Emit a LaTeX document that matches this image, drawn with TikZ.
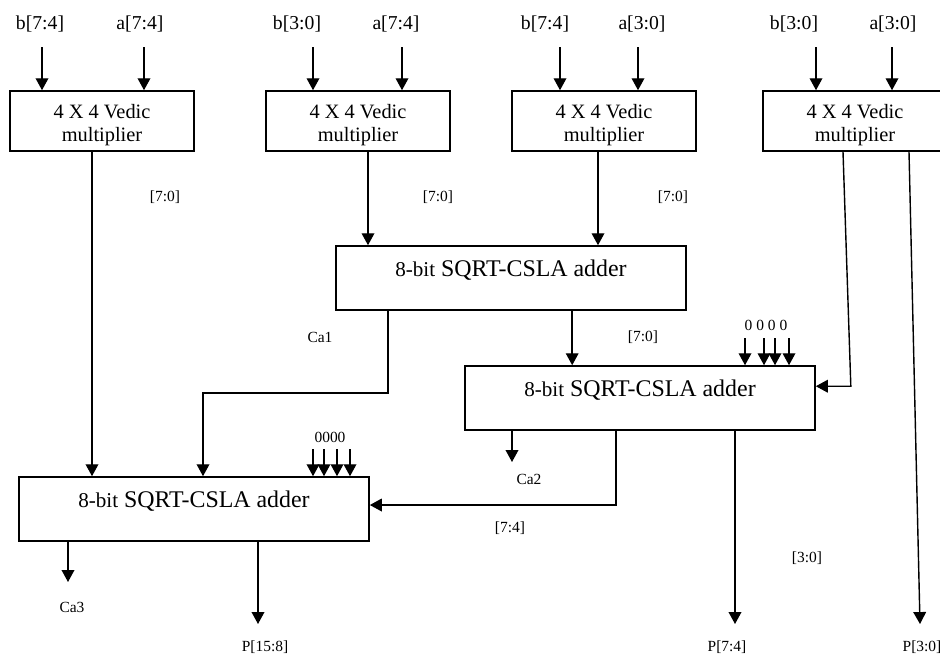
\documentclass[tikz,border=0pt]{standalone}
\usepackage{fontspec}
\setmainfont{Liberation Serif}
\usetikzlibrary{arrows.meta,calc}

\begin{document}
\begin{tikzpicture}[
		x=0.025cm, y=-0.025cm,
		mult/.style={draw, line width=1.1pt, align=center, inner sep=1pt, text height=32pt, minimum width=4.6cm, minimum height=1.5cm, font=\fontsize{14.5}{16}\selectfont},
		adder/.style={draw, line width=1.1pt, inner sep=1pt, text depth=14pt, minimum width=8.75cm, minimum height=1.6cm, font=\fontsize{17}{20}\selectfont},
		inlbl/.style={inner sep=1pt, font=\fontsize{14}{16}\selectfont},
		bus/.style={inner sep=1pt, font=\fontsize{11}{13}\selectfont},
		arrow/.style={-{Triangle[width=9pt,length=8.5pt]}, line width=1pt},
	]
	\useasboundingbox (0,0) rectangle (940,654);

	% multipliers
	\node[mult] (m1) at (102,121) {4 X 4 Vedic\\multiplier};
	\node[mult] (m2) at (358,121) {4 X 4 Vedic\\multiplier};
	\node[mult] (m3) at (604,121) {4 X 4 Vedic\\multiplier};
	\node[mult] (m4) at (855,121) {4 X 4 Vedic\\multiplier};

	% adders
	\node[adder] (add1) at (511,278) {{\fontsize{15}{18}\selectfont 8-bit} SQRT-CSLA adder};
	\node[adder] (add2) at (640,398) {{\fontsize{15}{18}\selectfont 8-bit} SQRT-CSLA adder};
	\node[adder] (add3) at (194,509) {{\fontsize{15}{18}\selectfont 8-bit} SQRT-CSLA adder};

	% inputs
	\node[inlbl] (b1) at (40,24) {b[7:4]};
	\node[inlbl] (a1) at (140,24) {a[7:4]};
	\node[inlbl] (b2) at (297,24) {b[3:0]};
	\node[inlbl] (a2) at (396,24) {a[7:4]};
	\node[inlbl] (b3) at (545,24) {b[7:4]};
	\node[inlbl] (a3) at (642,24) {a[3:0]};
	\node[inlbl] (b4) at (794,24) {b[3:0]};
	\node[inlbl] (a4) at (893,24) {a[3:0]};

	\coordinate (b1s) at (42,47);
	\coordinate (a1s) at (144,47);
	\coordinate (b2s) at (313,47);
	\coordinate (a2s) at (402,47);
	\coordinate (b3s) at (560,47);
	\coordinate (a3s) at (638,47);
	\coordinate (b4s) at (816,47);
	\coordinate (a4s) at (892,47);

	\draw[arrow] (b1s) -- (b1s |- m1.north);
	\draw[arrow] (a1s) -- (a1s |- m1.north);
	\draw[arrow] (b2s) -- (b2s |- m2.north);
	\draw[arrow] (a2s) -- (a2s |- m2.north);
	\draw[arrow] (b3s) -- (b3s |- m3.north);
	\draw[arrow] (a3s) -- (a3s |- m3.north);
	\draw[arrow] (b4s) -- (b4s |- m4.north);
	\draw[arrow] (a4s) -- (a4s |- m4.north);

	% multiplier outputs
	\coordinate (m1o) at ($(m1.south)+(-10,0)$);
	\coordinate (m2o) at ($(m2.south)+(10,0)$);
	\coordinate (m3o) at ($(m3.south)+(-6,0)$);
	\coordinate (m4o) at ($(m4.south)+(-12,0)$);
	\coordinate (m4p) at ($(m4.south)+(54,0)$);
	\coordinate (bend4) at ($(add2.north east)+(35,21)$);

	\draw[arrow] (m1o) -- (m1o |- add3.north);
	\draw[arrow] (m2o) -- (m2o |- add1.north);
	\draw[arrow] (m3o) -- (m3o |- add1.north);
	\draw[arrow] (m4o) -- (bend4) -- (bend4 -| add2.east);

	\node[bus] (w1) at (165,197) {[7:0]};
	\node[bus] (w2) at (438,197) {[7:0]};
	\node[bus] (w3) at (673,197) {[7:0]};

	% first adder outputs
	\coordinate (ca1o) at ($(add1.south west)+(53,0)$);
	\coordinate (ca1b) at (203,393);
	\coordinate (s1o) at ($(add1.south west)+(237,0)$);
	\draw[arrow] (ca1o) -- (ca1o |- ca1b) -- (ca1b) -- (ca1b |- add3.north);
	\draw[arrow] (s1o) -- (s1o |- add2.north);
	\node[bus] (ca1) at (320,337) {Ca1};
	\node[bus] (w4) at (643,337) {[7:0]};

	% zero inputs
	\node[bus] (zero2) at (766,325) {0 0 0 0};
	\coordinate (z21) at (745,338);
	\coordinate (z22) at (764,338);
	\coordinate (z23) at (775,338);
	\coordinate (z24) at (789,338);
	\draw[arrow] (z21) -- (z21 |- add2.north);
	\draw[arrow] (z22) -- (z22 |- add2.north);
	\draw[arrow] (z23) -- (z23 |- add2.north);
	\draw[arrow] (z24) -- (z24 |- add2.north);

	\node[bus] (zero3) at (330,437) {0000};
	\coordinate (z31) at (313,449);
	\coordinate (z32) at (324,449);
	\coordinate (z33) at (337,449);
	\coordinate (z34) at (350,449);
	\draw[arrow] (z31) -- (z31 |- add3.north);
	\draw[arrow] (z32) -- (z32 |- add3.north);
	\draw[arrow] (z33) -- (z33 |- add3.north);
	\draw[arrow] (z34) -- (z34 |- add3.north);

	% second adder outputs
	\coordinate (ca2e) at (512,462);
	\coordinate (hi2b) at (616,505);
	\coordinate (p74e) at (735,624);
	\draw[arrow] (add2.south -| ca2e) -- (ca2e);
	\draw[arrow] (add2.south -| hi2b) -- (hi2b) -- (hi2b -| add3.east);
	\draw[arrow] (add2.south -| p74e) -- (p74e);
	\node[bus] (ca2) at (529,479) {Ca2};
	\node[bus] (w5) at (510,528) {[7:4]};
	\node[bus] (w6) at (807,558) {[3:0]};

	% last adder outputs
	\coordinate (ca3e) at (68,582);
	\coordinate (p158e) at (258,624);
	\coordinate (p30e) at (920,624);
	\draw[arrow] (add3.south -| ca3e) -- (ca3e);
	\draw[arrow] (add3.south -| p158e) -- (p158e);
	\draw[arrow] (m4p) -- (p30e);
	\node[bus] (ca3) at (72,607) {Ca3};
	\node[bus] (p158) at (265,647) {P[15:8]};
	\node[bus] (p74) at (727,647) {P[7:4]};
	\node[bus] (p30) at (922,647) {P[3:0]};
\end{tikzpicture}
\end{document}
